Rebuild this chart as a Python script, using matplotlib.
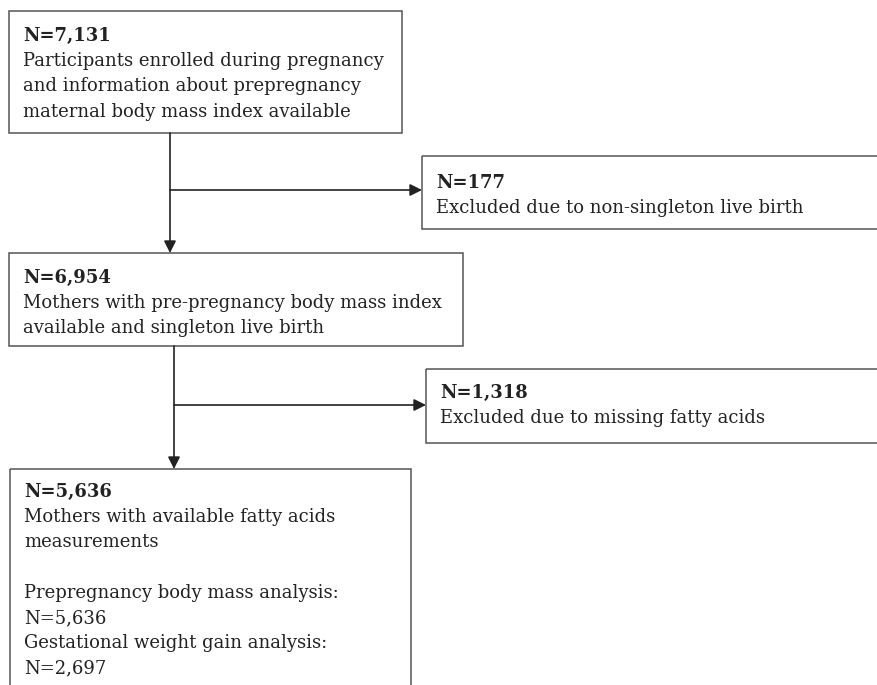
import matplotlib.pyplot as plt
from matplotlib.patches import Rectangle

# conteos de cada caja del diagrama
n_total = 7131
n_no_singleton = 177
n_singleton = 6954
n_sin_acidos = 1318
n_final = 5636
n_bmi = 5636
n_gwg = 2697

textos = [
    ["Participants enrolled during pregnancy",
     "and information about prepregnancy",
     "maternal body mass index available"],
    ["Excluded due to non-singleton live birth"],
    ["Mothers with pre-pregnancy body mass index",
     "available and singleton live birth"],
    ["Excluded due to missing fatty acids"],
    ["Mothers with available fatty acids",
     "measurements",
     "",
     "Prepregnancy body mass analysis:",
     "N={:,}".format(n_bmi),
     "Gestational weight gain analysis:",
     "N={:,}".format(n_gwg)],
]
conteos = [n_total, n_no_singleton, n_singleton, n_sin_acidos, n_final]

# cajas en pixeles: (x0, y0, x1, y1), y hacia abajo; dy = baseline de la primera linea
cajas = [(9, 11, 402, 133),
         (422, 156, 890, 229),
         (9, 253, 463, 346),
         (426, 369, 890, 443),
         (10, 469, 411, 700)]
dys = [30, 32, 30, 29, 28]

FUENTE = 'DejaVu Serif'
TAM = 13.0
PASO = 25.2
BORDE = '#555555'
LINEA = '#222222'

fig = plt.figure(figsize=(8.77, 6.85), dpi=100)
ax = fig.add_axes([0, 0, 1, 1])
ax.set_xlim(0, 877)
ax.set_ylim(685, 0)
ax.axis('off')

for caja, dy, n, lineas in zip(cajas, dys, conteos, textos):
    x0, y0, x1, y1 = caja
    ax.add_patch(Rectangle((x0, y0), x1 - x0, y1 - y0, fill=False,
                           edgecolor=BORDE, linewidth=1.1))
    xt = x0 + 14
    yt = y0 + dy
    ax.text(xt, yt, "N={:,}".format(n), fontsize=TAM, family=FUENTE,
            fontweight='bold', va='baseline', color='#222222')
    for i, l in enumerate(lineas):
        ax.text(xt, yt + PASO * (i + 1), l, fontsize=TAM, family=FUENTE,
                va='baseline', color='#222222')

def flecha(x0, y0, x1, y1):
    ax.annotate('', xy=(x1, y1), xytext=(x0, y0),
                arrowprops=dict(arrowstyle='-|>', color=LINEA, lw=1.2,
                                mutation_scale=18, shrinkA=0, shrinkB=0))

# primer bloque
flecha(170, 133, 170, 253)
flecha(170, 190, 422, 190)
# segundo bloque
flecha(174, 346, 174, 469)
flecha(174, 405, 426, 405)

plt.savefig('out.png', dpi=100)
